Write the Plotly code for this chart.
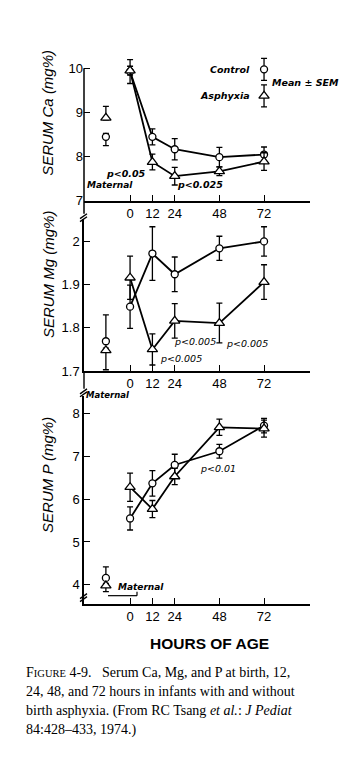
import plotly.graph_objects as go

# ---------------- data ----------------
hours = [0, 12, 24, 48, 72]
maternal_hour = [-13]

ca_control = [9.93, 8.45, 8.17, 7.99, 8.05]
ca_control_err = [0.27, 0.18, 0.24, 0.22, 0.17]
ca_asphyxia = [9.95, 7.88, 7.56, 7.67, 7.89]
ca_asphyxia_err = [0.1, 0.18, 0.2, 0.1, 0.2]
ca_maternal_control = [8.45]
ca_maternal_control_up = [0.08]
ca_maternal_control_dn = [0.2]
ca_maternal_asphyxia = [8.88]
ca_maternal_asphyxia_up = [0.26]
ca_maternal_asphyxia_dn = [0.05]

mg_control = [1.849, 1.972, 1.924, 1.984, 2.0]
mg_control_err = [0.05, 0.062, 0.04, 0.028, 0.034]
mg_asphyxia = [1.916, 1.75, 1.816, 1.811, 1.906]
mg_asphyxia_err = [0.05, 0.036, 0.04, 0.046, 0.04]
mg_maternal_control = [1.769]
mg_maternal_control_up = [0.061]
mg_maternal_control_dn = [0.005]
mg_maternal_asphyxia = [1.748]
mg_maternal_asphyxia_up = [0.005]
mg_maternal_asphyxia_dn = [0.045]

p_control = [5.55, 6.37, 6.8, 7.12, 7.72]
p_control_err = [0.27, 0.3, 0.25, 0.16, 0.17]
p_asphyxia = [6.28, 5.77, 6.53, 7.68, 7.65]
p_asphyxia_err = [0.33, 0.2, 0.19, 0.19, 0.2]
p_maternal_control = [4.16]
p_maternal_control_up = [0.26]
p_maternal_control_dn = [0.05]
p_maternal_asphyxia = [3.98]
p_maternal_asphyxia_up = [0.05]
p_maternal_asphyxia_dn = [0.14]

x_tickvals = [0, 12, 24, 48, 72, 96.5]
x_ticktext = ["0", "12", "24", "48", "72", ""]
ca_ticks = [7, 8, 9, 10]
ca_ticktext = ["7", "8", "9", "10"]
mg_ticks = [1.7, 1.8, 1.9, 2.0]
mg_ticktext = ["1.7", "1.8", "1.9", "2"]
p_ticks = [4, 5, 6, 7, 8]
p_ticktext = ["4", "5", "6", "7", "8"]

# legend glyph samples (Ca panel)
legend_x = [72]
legend_control_y = [9.98]
legend_asphyxia_y = [9.38]
legend_err = [0.25]

# ---------------- figure ----------------
W, H = 363, 761
fig = go.Figure()

BLACK = "black"


def px_x(p):
    return p / W


def px_y(p):
    return 1 - p / H


def add_series(x, y, err_up, err_dn, symbol, size, xa, ya, line=True):
    fig.add_trace(go.Scatter(
        x=x, y=y, xaxis=xa, yaxis=ya,
        mode="lines+markers" if line else "markers",
        line=dict(color=BLACK, width=1.8),
        marker=dict(symbol=symbol, size=size, color="white",
                    line=dict(color=BLACK, width=1.3)),
        error_y=dict(type="data", symmetric=False, array=err_up,
                     arrayminus=err_dn, color=BLACK, thickness=1.3, width=3),
        cliponaxis=False,
        showlegend=False, hoverinfo="skip",
    ))


panels = [
    ("x", "y", ca_control, ca_control_err, ca_asphyxia, ca_asphyxia_err,
     ca_maternal_control, ca_maternal_control_up, ca_maternal_control_dn,
     ca_maternal_asphyxia, ca_maternal_asphyxia_up, ca_maternal_asphyxia_dn),
    ("x2", "y2", mg_control, mg_control_err, mg_asphyxia, mg_asphyxia_err,
     mg_maternal_control, mg_maternal_control_up, mg_maternal_control_dn,
     mg_maternal_asphyxia, mg_maternal_asphyxia_up, mg_maternal_asphyxia_dn),
    ("x3", "y3", p_control, p_control_err, p_asphyxia, p_asphyxia_err,
     p_maternal_control, p_maternal_control_up, p_maternal_control_dn,
     p_maternal_asphyxia, p_maternal_asphyxia_up, p_maternal_asphyxia_dn),
]

for (xa, ya, c, ce, a, ae, mc, mcu, mcd, ma, mau, mad) in panels:
    add_series(hours, c, ce, ce, "circle", 7, xa, ya)
    add_series(hours, a, ae, ae, "triangle-up", 9, xa, ya)
    add_series(maternal_hour, mc, mcu, mcd, "circle", 7, xa, ya, line=False)
    add_series(maternal_hour, ma, mau, mad, "triangle-up", 9, xa, ya, line=False)

# legend glyphs
add_series(legend_x, legend_control_y, legend_err, legend_err, "circle", 7, "x", "y", line=False)
add_series(legend_x, legend_asphyxia_y, legend_err, legend_err, "triangle-up", 9, "x", "y", line=False)

xdom = [px_x(84), px_x(310)]
xrange = [-25.3 + 1 / 1.861, 96.7]

axis_common = dict(showline=True, linecolor=BLACK, linewidth=1.5,
                   showgrid=False, zeroline=False, ticks="inside",
                   ticklen=6, tickwidth=1.3, tickcolor=BLACK,
                   tickfont=dict(family="Liberation Sans, Arial", size=13, color=BLACK))
yaxis_common = dict(linecolor=BLACK, linewidth=1.5,
                    showgrid=False, zeroline=False, ticks="inside",
                    ticklen=6, tickwidth=1.3, tickcolor=BLACK,
                    tickfont=dict(family="Liberation Sans, Arial", size=13, color=BLACK))

fig.update_layout(
    width=W, height=H,
    margin=dict(l=0, r=0, t=0, b=0),
    paper_bgcolor="white", plot_bgcolor="white",
    showlegend=False,
    xaxis=dict(domain=xdom, range=xrange, anchor="y", tickvals=x_tickvals,
               ticktext=x_ticktext, **axis_common),
    yaxis=dict(domain=[px_y(203), px_y(56)], range=[7, 7 + (203 - 56) / 44.6],
               anchor="x", tickvals=ca_ticks, ticktext=ca_ticktext,
               showline=False, **yaxis_common),
    xaxis2=dict(domain=xdom, range=xrange, anchor="y2", tickvals=x_tickvals,
                ticktext=x_ticktext, **axis_common),
    yaxis2=dict(domain=[px_y(375), px_y(221)], range=[1.7, 1.7 + (375 - 221) / 436.7],
                anchor="x2", tickvals=mg_ticks, ticktext=mg_ticktext,
                showline=True, **yaxis_common),
    xaxis3=dict(domain=xdom, range=xrange, anchor="y3", tickvals=x_tickvals,
                ticktext=x_ticktext, **axis_common),
    yaxis3=dict(domain=[px_y(610), px_y(400)], range=[4 - (610 - 591) / 43.25, 8 + (418 - 400) / 43.25],
                anchor="x3", tickvals=p_ticks, ticktext=p_ticktext,
                showline=True, **yaxis_common),
)

ann = []


def add_text(text, x, y, size=10, family="DejaVu Sans", xanchor="center", angle=0, color=BLACK):
    ann.append(dict(text=text, x=px_x(x), y=px_y(y), xref="paper", yref="paper",
                    showarrow=False, xanchor=xanchor, yanchor="middle",
                    textangle=angle, font=dict(family=family, size=size, color=color)))


# y-axis titles
add_text("<i>SERUM Ca (mg%)</i>", 48, 114, size=15, family="Liberation Sans, Arial", angle=-90)
add_text("<i>SERUM Mg (mg%)</i>", 48, 277, size=15, family="Liberation Sans, Arial", angle=-90)
add_text("<i>SERUM P (mg%)</i>", 48, 480, size=15, family="Liberation Sans, Arial", angle=-90)

# legend texts
add_text("<i><b>Control</b></i>", 252, 70, size=9.5, xanchor="right")
add_text("<i><b>Asphyxia</b></i>", 252, 97, size=9.5, xanchor="right")
add_text("<i><b>Mean ± SEM</b></i>", 270, 83, size=9.5, xanchor="left")

# p-value notes and maternal labels
add_text("<i><b>p<0.05</b></i>", 126, 175, size=9.5)
add_text("<i><b>Maternal</b></i>", 110, 187, size=9)
add_text("<i><b>p<0.025</b></i>", 200, 186, size=9.5)
add_text("<i>p<0.005</i>", 195, 345, size=9.5)
add_text("<i>p<0.005</i>", 247, 347, size=9.5)
add_text("<i>p<0.005</i>", 181, 362, size=9.5)
add_text("<i><b>Maternal</b></i>", 108, 399, size=8.5)
add_text("<i>p<0.01</i>", 218, 473, size=9.5)
add_text("<i><b>Maternal</b></i>", 141, 593, size=9)

# x-axis title
add_text("<b>HOURS OF AGE</b>", 209, 650, size=15.5, family="Liberation Sans, Arial")

# caption
serif = "Liberation Serif, Times New Roman"
cap_lines = [
    "F<span style='font-size:10.5px'>IGURE</span> 4-9.   Serum Ca, Mg, and P at birth, 12,",
    "24, 48, and 72 hours in infants with and without",
    "birth asphyxia. (From RC Tsang <i>et al.</i>: <i>J Pediat</i>",
    "84:428–433, 1974.)",
]
for i, line in enumerate(cap_lines):
    add_text(line, 24, 680 + i * 19.2, size=14, family=serif, xanchor="left")

fig.update_layout(annotations=ann)

# axis line for Ca panel (starts at the "10" tick), break marks, connectors
shapes = []


def seg(x0, y0, x1, y1, w=1.4, color=BLACK):
    shapes.append(dict(type="line", xref="paper", yref="paper",
                       x0=px_x(x0), y0=px_y(y0), x1=px_x(x1), y1=px_y(y1),
                       line=dict(color=color, width=w)))


seg(84, 69, 84, 216, w=1.5)
seg(84, 375, 84, 393)
for yb in (219, 396, 603):
    seg(80, yb + 2, 87, yb - 3)
    seg(80, yb + 5, 87, yb)
seg(108, 602, 137, 602, w=1.2)
seg(137, 602, 137, 598, w=1.2)

fig.update_layout(shapes=shapes)

css_js = (
    "var s=document.createElement('style');"
    "s.textContent='html,body{margin:0;padding:0;overflow:hidden;height:761px;}';"
    "document.head.appendChild(s);"
)
fig.write_html("out.html", config={"displayModeBar": False}, post_script=css_js)
